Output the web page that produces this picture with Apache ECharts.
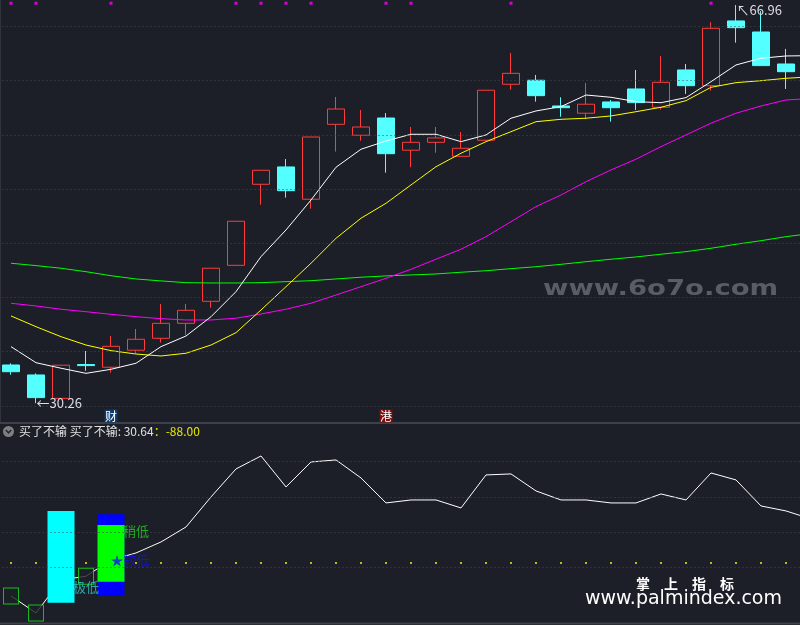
<!DOCTYPE html>
<html><head><meta charset="utf-8">
<script src="https://cdn.jsdelivr.net/npm/echarts@6/dist/echarts.min.js"></script>
<style>html,body{margin:0;padding:0;background:#1c1f27;}#c{width:800px;height:625px;}</style>
</head><body><div id="c"></div>
<script>
// ---- data ----
const categories = ['D01','D02','D03','D04','D05','D06','D07','D08','D09','D10','D11','D12','D13','D14','D15','D16','D17','D18','D19','D20','D21','D22','D23','D24','D25','D26','D27','D28','D29','D30','D31','D32','D33'];
const candleOpen  = [33.78,32.86,30.70,33.82,33.57,35.14,36.24,37.62,39.65,42.97,50.44,52.04,49.06,55.97,54.96,56.55,53.58,54.31,53.02,54.50,59.66,60.03,57.66,56.99,58.03,59.23,57.54,60.98,59.53,65.50,64.48,61.53];
const candleClose = [33.16,30.77,33.76,33.72,35.50,36.15,37.62,38.82,42.70,47.03,51.73,49.85,54.80,57.38,55.72,53.26,54.31,54.71,53.76,59.11,60.67,58.61,57.50,57.82,57.50,57.97,59.84,59.53,64.82,64.88,61.38,60.82];
const candleLow   = [32.89,30.26,30.70,33.25,33.07,34.86,35.84,36.55,39.06,42.97,48.56,49.21,48.19,53.45,54.46,51.51,52.01,53.35,53.02,54.50,59.16,58.06,56.67,56.43,56.21,57.29,57.32,58.77,59.07,63.50,61.38,59.23];
const candleHigh  = [33.94,33.01,33.76,35.07,36.45,37.10,39.40,39.40,42.70,47.03,51.73,52.77,54.80,58.49,57.29,57.01,55.72,55.72,55.26,59.11,62.55,60.52,58.46,59.78,58.21,60.98,62.27,61.53,65.38,66.96,66.42,62.92];
const maWhite   = [35.47,33.99,33.48,33.01,33.38,33.94,35.47,36.45,38.23,40.54,43.77,46.23,48.99,52.01,53.67,54.43,55.05,55.05,54.37,54.99,56.53,57.20,57.60,58.67,58.46,58.06,57.96,58.43,59.90,61.44,62.06,62.27,62.30];
const maYellow  = [38.30,37.31,36.39,35.62,35.10,34.79,34.61,34.86,35.62,36.76,38.85,41.00,43.16,45.46,47.31,48.69,50.38,52.06,53.30,54.37,55.29,56.21,56.43,56.53,56.74,57.13,57.54,58.15,59.38,59.81,59.99,60.21,60.35];
const maMagenta = [39.47,39.22,38.92,38.69,38.45,38.23,38.05,37.93,37.93,38.09,38.48,38.92,39.47,40.23,41.00,41.77,42.60,43.53,44.45,45.61,46.99,48.38,49.45,50.68,51.76,52.75,53.91,54.99,56.07,56.99,57.66,58.21,58.35];
const maGreen   = [43.16,42.94,42.70,42.38,42.01,41.71,41.53,41.37,41.34,41.34,41.37,41.46,41.55,41.71,41.87,41.99,42.08,42.17,42.33,42.47,42.66,42.84,43.06,43.30,43.53,43.74,43.99,44.23,44.54,44.91,45.24,45.61,45.90];
const topMarkIdx = [0,1,4,9,10,11,12,15,16,20,28];
const topMarkLevel = 67.13;
const priceGridTicks = [30,35,40,45,50,55,60,65];
const lowLabel = {idx:1, value:30.26};
const highLabel = {idx:29, value:66.96};
const tagIdx = [4,15];
const tagText = ['财','港'];
const tagLevel = 29.08;

// lower panel: 买了不输
const buyLine = [-163.3,-202.1,-126.8,-118.3,-81.2,-65.2,-40.1,-5.9,62.6,126.5,156.1,85.4,142.4,147.0,105.9,48.9,55.7,55.7,37.5,112.8,115.1,76.3,55.7,55.7,48.9,48.9,69.4,55.7,117.3,101.4,42.0,30.64,12.4];
const buyLevel = [-88,-88,-88,-88,-88,-88,-88,-88,-88,-88,-88,-88,-88,-88,-88,-88,-88,-88,-88,-88,-88,-88,-88,-88,-88,-88,-88,-88,-88,-88,-88,-88,-88];
const lowerGridTicks = [144.7,62.6,-17.3,-97.1];
const boxIdx = [0,1,3];
const barIdx  = [2,4,4];
const barFrom = [-178.6,-162.6,-130.7];
const barTo   = [30.64,23.1,-1.3];
const textIdx = [3,5,5];
const textVal = [-142.8,-16.1,-81.2];
const textStr = ['极低','稍低','★较低'];

// ---- build ----
const BG = '#1c1f27';
const FONT = 'Noto Sans CJK SC';
const candleData = candleOpen.map((o,i)=>[o,candleClose[i],candleLow[i],candleHigh[i]]);
const barColors = ['#00ffff','#0000ff','#00ff00'];
const textStyles = [
  {color:'#33c8cc', offset:[0,0]},
  {color:'#1fd01f', offset:[0,0]},
  {color:'#1414ee', offset:[-6,0]}
];
const dotted = {color:'#45484f', type:[1,3], width:1};
function gridLines(ticks){ return {silent:true, symbol:['none','none'], label:{show:false}, lineStyle:dotted, data: ticks.map(v=>({yAxis:v}))}; }
const lastVal = buyLine[31];

const chart = echarts.init(document.getElementById('c'), null, {renderer:'canvas'});
const option = {
  backgroundColor: BG,
  animation: false,
  textStyle: {fontFamily: FONT},
  grid: [
    {left:-1.5, width:825, top:0, height:423, outerBoundsMode:'none', containLabel:false},
    {left:-1.5, width:825, top:424, height:199, outerBoundsMode:'none', containLabel:false}
  ],
  xAxis: [
    {type:'category', gridIndex:0, data:categories, boundaryGap:true, show:false},
    {type:'category', gridIndex:1, data:categories, boundaryGap:true, show:false}
  ],
  yAxis: [
    {type:'value', gridIndex:0, min:28.43, max:67.43, show:false, splitLine:{show:false}},
    {type:'value', gridIndex:1, min:-225, max:229, show:false, splitLine:{show:false}}
  ],
  series: [
    {type:'line', xAxisIndex:0, yAxisIndex:0, data:[], z:1, markLine: gridLines(priceGridTicks)},
    {type:'line', xAxisIndex:1, yAxisIndex:1, data:[], z:1, markLine: gridLines(lowerGridTicks)},
    {type:'candlestick', xAxisIndex:0, yAxisIndex:0, data:candleData, barWidth:18, z:2,
      itemStyle:{color:'transparent', color0:'#54ffff', borderColor:'#ff3b3b', borderColor0:'#54ffff', borderWidth:1},
      markPoint:{
        silent:true,
        data:[
          {coord:[lowLabel.idx, lowLabel.value], symbol:'circle', symbolSize:1, itemStyle:{color:'transparent'},
           label:{show:true, position:'right', distance:0, formatter:'←'+lowLabel.value.toFixed(2), color:'#dcdce6', fontSize:13, fontFamily:FONT}},
          {coord:[highLabel.idx, highLabel.value], symbol:'circle', symbolSize:1, itemStyle:{color:'transparent'},
           label:{show:true, position:'right', distance:0, offset:[0,5], formatter:'↖'+highLabel.value.toFixed(2), color:'#dcdce6', fontSize:13, fontFamily:FONT}},
          {coord:[tagIdx[0], tagLevel], symbol:'rect', symbolSize:[13,13], itemStyle:{color:'#0d3a6a'},
           label:{show:true, position:'inside', formatter:tagText[0], color:'#ffffff', fontSize:12, fontFamily:FONT}},
          {coord:[tagIdx[1], tagLevel], symbol:'rect', symbolSize:[13,13], itemStyle:{color:'#7d0c0c'},
           label:{show:true, position:'inside', formatter:tagText[1], color:'#ffffff', fontSize:12, fontFamily:FONT}}
        ]
      }
    },
    {type:'line', xAxisIndex:0, yAxisIndex:0, data:maGreen, symbol:'none', z:3, lineStyle:{color:'#00ff00', width:1}},
    {type:'line', xAxisIndex:0, yAxisIndex:0, data:maMagenta, symbol:'none', z:3, lineStyle:{color:'#ff00ff', width:1}},
    {type:'line', xAxisIndex:0, yAxisIndex:0, data:maYellow, symbol:'none', z:3, lineStyle:{color:'#ffff00', width:1}},
    {type:'line', xAxisIndex:0, yAxisIndex:0, data:maWhite, symbol:'none', z:3, lineStyle:{color:'#ffffff', width:1}},
    {type:'scatter', xAxisIndex:0, yAxisIndex:0, data: topMarkIdx.map(i=>[i, topMarkLevel]), symbol:'rect', symbolSize:3, z:3, itemStyle:{color:'#ff00ff'}},
    // lower panel
    {type:'scatter', xAxisIndex:1, yAxisIndex:1, data: buyLevel.map((v,i)=>[i,v]), symbol:'rect', symbolSize:2, z:2, itemStyle:{color:'#e6e600'}},
    {type:'line', xAxisIndex:1, yAxisIndex:1, data:buyLine, symbol:'none', z:2, lineStyle:{color:'#ffffff', width:1}},
    {type:'custom', xAxisIndex:1, yAxisIndex:1, z:3,
      data: barIdx.map((x,i)=>[x, barFrom[i], barTo[i], i===0?0:(i===1?1:2)]),
      encode:{x:0, y:[1,2]},
      renderItem: function(params, api){
        const x = api.value(0), lo = api.value(1), hi = api.value(2), c = api.value(3);
        const p1 = api.coord([x, hi]), p2 = api.coord([x, lo]);
        const w = api.size([1,0])[0]*1.08;
        return {type:'rect', shape:{x:p1[0]-w/2, y:p1[1], width:w, height:p2[1]-p1[1]}, style:{fill:barColors[c]}};
      }
    },
    {type:'scatter', xAxisIndex:1, yAxisIndex:1, z:4, data: boxIdx.map(i=>[i, buyLine[i]]), symbol:'rect', symbolSize:[15,16],
      itemStyle:{color:BG, borderColor:'#19e619', borderWidth:1}},
    {type:'scatter', xAxisIndex:1, yAxisIndex:1, z:5, symbol:'circle', symbolSize:1, itemStyle:{color:'transparent'},
      label:{show:true, position:'inside', fontSize:13, fontFamily:FONT},
      data: textIdx.map((x,i)=>({value:[x, textVal[i]], label:{formatter:textStr[i], color:textStyles[i].color, offset:textStyles[i].offset}}))
    }
  ],
  graphic: [
    {type:'rect', shape:{x:0, y:0, width:1, height:423}, style:{fill:'#30333b'}, silent:true},
    {type:'rect', shape:{x:0, y:422, width:800, height:2}, style:{fill:'#3e4149'}, silent:true},
    {type:'rect', shape:{x:0, y:622.5, width:800, height:2}, style:{fill:'#3e4149'}, silent:true},
    {type:'circle', shape:{cx:8.5, cy:431.5, r:5.5}, style:{fill:'#7f7f82'}, silent:true},
    {type:'polyline', shape:{points:[[5.8,430],[8.5,432.8],[11.2,430]]}, style:{stroke:'#26282e', lineWidth:1.5, fill:null}, silent:true},
    {type:'text', x:19, y:431.5, silent:true, style:{
      text:'{w|买了不输 买了不输: '+lastVal.toFixed(2)+'}{y|：'+buyLevel[31].toFixed(2)+'}',
      verticalAlign:'middle', font:'12px '+FONT,
      rich:{w:{fill:'#e0e0e0', fontSize:12, fontFamily:FONT}, y:{fill:'#e6e600', fontSize:12, fontFamily:FONT}}
    }},
    {type:'text', x:543, y:289, scaleX:1.25, silent:true, z:0, style:{text:'www.6o7o.com', fill:'#5a5d63', font:'bold 22px "DejaVu Sans"', verticalAlign:'middle'}},
    {type:'text', x:636, y:583.5, silent:true, style:{text:'掌　上　指　标', fill:'#ffffff', font:'bold 14px '+FONT, verticalAlign:'middle'}},
    {type:'text', x:585, y:599, silent:true, style:{text:'www.palmindex.com', fill:'#ffffff', font:'19px "DejaVu Sans"', verticalAlign:'middle'}}
  ]
};
chart.setOption(option);
</script></body></html>
